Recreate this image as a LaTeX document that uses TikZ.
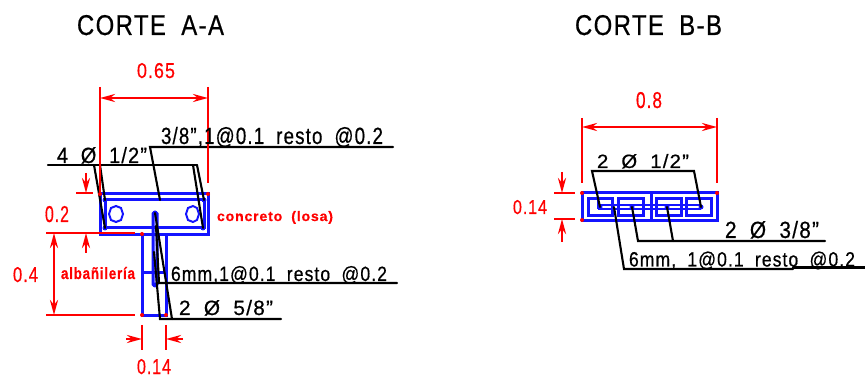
\documentclass[tikz,border=0pt]{standalone}
\usepackage{graphicx}
\usepackage{fontspec}
\setmainfont[WordSpace=1.9,LetterSpace=6,FakeBold=0.6]{Liberation Sans}
\usetikzlibrary{arrows.meta}
\definecolor{cadred}{RGB}{255,0,0}
\definecolor{cadblue}{RGB}{20,20,255}
\tikzset{
  x=1pt,y=-1pt,
  steel/.style={draw=cadblue,line width=3pt},
  hexbar/.style={draw=cadblue,line width=2pt},
  leader/.style={draw=black,line width=2.1pt,line cap=round},
  dimline/.style={draw=cadred,line width=2.8pt},
  dimarrow/.style={draw=cadred,line width=2.8pt,-{Stealth[length=15pt,width=8pt]}},
  cadtext/.style={anchor=base west,inner sep=0pt,outer sep=0pt,text=black},
  redtext/.style={cadtext,text=cadred},
  bluedot/.style={fill=cadblue,draw=none,circle,minimum size=5pt,inner sep=0pt},
  reddot/.style={fill=cadred,draw=none,circle,minimum size=4pt,inner sep=0pt},
}
\newcommand{\fit}[3]{\resizebox{#1pt}{#2pt}{#3}}
\begin{document}
\begin{tikzpicture}
\useasboundingbox (0,0) rectangle (865,379);
% ---- Corte A-A: steel
\draw[steel] (100,194) rectangle (208,235);
\draw[steel] (105,200) rectangle (204,228);
\draw[steel] (142,235) -- (142,316) -- (166,316) -- (166,235);
\draw[steel] (142,273) -- (165,273);
\draw[steel,rounded corners=0.8pt] (153,213) rectangle (157,285);
\draw[hexbar] (111,208) -- (116,206) -- (121,208) -- (123,214) -- (121,220) -- (116,222) -- (111,220) -- (109,214) -- cycle;
\draw[hexbar] (188,208) -- (193,206) -- (197,208) -- (199,214) -- (197,220) -- (193,222) -- (188,220) -- (186,214) -- cycle;
\foreach \p in {(105,200),(105,228),(204,200),(203,228),(155,213),(155,285)} \node[bluedot] at \p {};
% ---- Corte A-A: leaders
\draw[leader] (48,165) -- (197,165);
\draw[leader] (94,165) -- (105,228);
\draw[leader] (100,165) -- (105,200);
\draw[leader] (193,165) -- (203,228);
\draw[leader] (197,165) -- (204,200);
\draw[leader] (393,147) -- (150,147) -- (160,200);
\draw[leader] (155,213) -- (172,319);
\draw[leader] (154,252) -- (160,319) -- (281,319);
\draw[leader] (156,226) -- (159,283) -- (397,283);
% ---- Corte A-A: dimensions
\draw[dimline] (100,87) -- (100,192);
\draw[dimline] (208,87) -- (208,183);
\draw[dimarrow] (155,98) -- (100,98);
\draw[dimarrow] (155,98) -- (208,98);
\draw[dimline] (76,193) -- (93,193);
\draw[dimline] (46,233) -- (135,233);
\draw[dimline] (46,315) -- (135,315);
\draw[dimarrow] (86,173) -- (86,193);
\draw[dimarrow] (86,253) -- (86,233);
\draw[dimarrow] (54,274) -- (54,233);
\draw[dimarrow] (54,274) -- (54,315);
\draw[dimline] (142,325) -- (142,350);
\draw[dimline] (166,325) -- (166,350);
\draw[dimarrow] (126,339) -- (142,339);
\draw[dimarrow] (183,339) -- (166,339);
\foreach \p in {(100,194),(208,194),(142,234),(142,315),(166,315)} \node[reddot] at \p {};
% ---- Corte B-B: steel
\draw[steel] (582,193) rectangle (717,221);
\draw[steel] (651,193) -- (651,221);
\draw[steel] (588,199) rectangle (612,216);
\draw[steel] (618,199) rectangle (643,216);
\draw[steel] (656,199) rectangle (681,216);
\draw[steel] (686,199) rectangle (711,216);
\draw[hexbar] (598,205.5) -- (701,205.5);
\draw[hexbar] (598,209) -- (701,209);
\draw[hexbar] (598,199) -- (598,209);
\foreach \p in {(600,207),(632,207),(667,207),(701,207)} \node[bluedot] at \p {};
% ---- Corte B-B: leaders
\draw[leader] (600,207) -- (592,171) -- (694,171) -- (701,207);
\draw[leader] (632,207) -- (638,241) -- (825,241);
\draw[leader] (667,207) -- (673,241);
\draw[leader] (614,207) -- (624,269) -- (793,269);
\draw[leader] (793,267.5) -- (865,267.5);
% ---- Corte B-B: dimensions
\draw[dimline] (582,118) -- (582,183);
\draw[dimline] (717,118) -- (717,183);
\draw[dimarrow] (650,127) -- (582,127);
\draw[dimarrow] (650,127) -- (717,127);
\draw[dimline] (554,193) -- (575,193);
\draw[dimline] (554,219) -- (575,219);
\draw[dimarrow] (562,172) -- (562,193);
\draw[dimarrow] (562,242) -- (562,219);
\foreach \p in {(582,193),(717,193),(582,220)} \node[reddot] at \p {};
% ---- Texts
\node[cadtext] (ta) at (77,35) {\fit{147}{20}{CORTE A-A}};
\node[cadtext] (tb) at (575,35) {\fit{147}{20}{CORTE B-B}};
\node[redtext] (d65) at (137,78) {\fit{38}{15}{0.65}};
\node[cadtext] (l38) at (161,144) {\fit{222}{17}{3/8",1@0.1 resto @0.2}};
\node[cadtext] (l12) at (57,163) {\fit{90}{16}{4 Ø 1/2"}};
\node[redtext] (d2) at (45,222) {\fit{24}{16}{0.2}};
\node[redtext] (d4) at (13,282) {\fit{25}{15}{0.4}};
\node[redtext] (alb) at (61,279) {\fit{74}{12}{\bfseries albañilería}};
\node[redtext] (con) at (217,221) {\fit{116}{10}{\bfseries concreto (losa)}};
\node[cadtext] (l6) at (171,281) {\fit{216}{15}{6mm,1@0.1 resto @0.2}};
\node[cadtext] (l58) at (179,315) {\fit{94}{15}{2 Ø 5/8"}};
\node[redtext] (d14a) at (137,374) {\fit{34}{15}{0.14}};
\node[redtext] (d8) at (636,108) {\fit{26}{16}{0.8}};
\node[cadtext] (r12) at (597,168) {\fit{92}{14}{2 Ø 1/2"}};
\node[redtext] (d14b) at (513,214) {\fit{34}{14}{0.14}};
\node[cadtext] (r38) at (725,238) {\fit{94}{17}{2 Ø 3/8"}};
\node[cadtext] (r6) at (629,266.5) {\fit{226}{15}{6mm, 1@0.1 resto @0.2}};
\end{tikzpicture}
\end{document}
